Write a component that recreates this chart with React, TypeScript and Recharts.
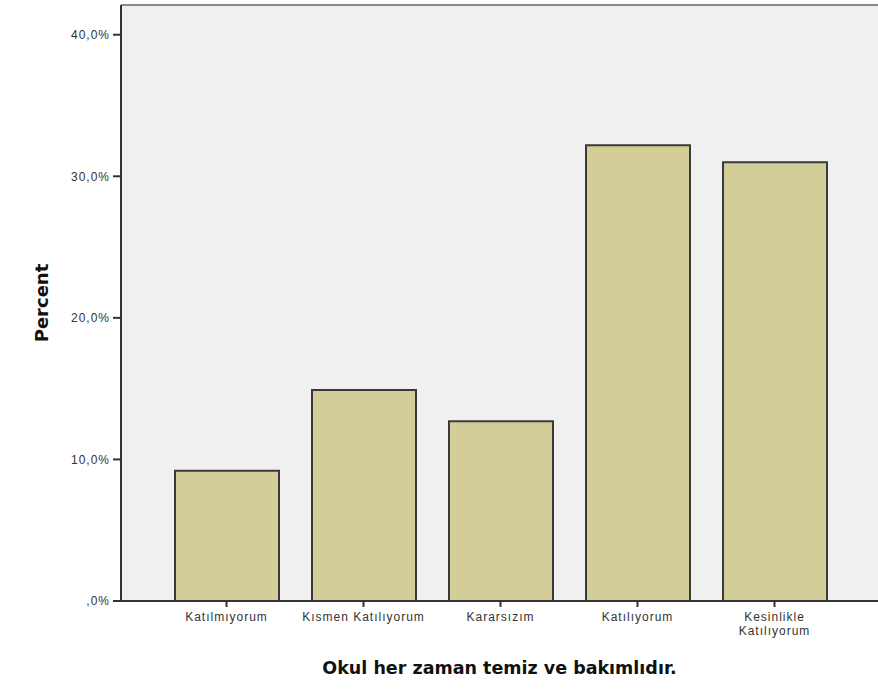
import { BarChart, Bar, XAxis, YAxis, CartesianGrid, ReferenceLine, Label } from "recharts";

const categories = ["Katılmıyorum", "Kısmen Katılıyorum", "Kararsızım", "Katılıyorum", "Kesinlikle Katılıyorum"];
const percents = [9.2, 14.9, 12.7, 32.2, 31.0];
const yTicks = [0, 10, 20, 30, 40];
const Y_MAX = 42.1;

const data = categories.map((name, i) => ({ name, percent: percents[i] }));

const tickFont = { fontFamily: "'Liberation Sans', Arial, sans-serif", fontSize: 12, fill: "#333", letterSpacing: 1 };

function XTick(props: any) {
  const { x, y, payload } = props;
  // long labels wrap onto two lines like the SPSS output
  const lines = payload.value === "Kesinlikle Katılıyorum" ? ["Kesinlikle", "Katılıyorum"] : [payload.value];
  return (
    <g>
      {lines.map((l: string, i: number) => (
        <text key={i} x={x} y={y + 12 + i * 14} textAnchor="middle" style={tickFont}>
          {l}
        </text>
      ))}
    </g>
  );
}

export default function App() {
  return (
    <div style={{ position: "fixed", left: 0, top: 0, width: 878, height: 699, background: "#fff" }}>
      <BarChart width={878} height={699} data={data} margin={{ top: 5, right: 0, left: 0, bottom: 0 }} barSize={104}>
        <CartesianGrid fill="#f0f0f0" stroke="none" vertical={false} horizontal={false} />
        <XAxis
          dataKey="name"
          height={98}
          padding={{ left: 37, right: 35 }}
          axisLine={{ stroke: "#333", strokeWidth: 2 }}
          tickLine={{ stroke: "#333", strokeWidth: 2 }}
          tickSize={6}
          tickMargin={2}
          interval={0}
          tick={<XTick />}
        >
          <Label
            value="Okul her zaman temiz ve bakımlıdır."
            position="insideBottom"
            offset={25}
            style={{ fontFamily: "'DejaVu Sans', Verdana, sans-serif", fontWeight: "bold", fontSize: 17.5, fill: "#111" }}
          />
        </XAxis>
        <YAxis
          width={121}
          domain={[0, Y_MAX]}
          ticks={yTicks}
          allowDataOverflow
          tickFormatter={(v: number) => (v === 0 ? ",0%" : `${v},0%`)}
          axisLine={{ stroke: "#333", strokeWidth: 2 }}
          tickLine={{ stroke: "#333", strokeWidth: 2 }}
          tickSize={8}
          tickMargin={3}
          tick={tickFont}
        >
          <Label
            value="Percent"
            angle={-90}
            position="insideLeft"
            offset={42}
            style={{ fontFamily: "'DejaVu Sans', Verdana, sans-serif", fontWeight: "bold", fontSize: 18, fill: "#111", textAnchor: "middle" }}
          />
        </YAxis>
        <ReferenceLine y={Y_MAX} stroke="#8a8a8a" strokeWidth={2} />
        <Bar dataKey="percent" fill="#d3ce97" stroke="#3a3a3a" strokeWidth={2} isAnimationActive={false} />
      </BarChart>
    </div>
  );
}
